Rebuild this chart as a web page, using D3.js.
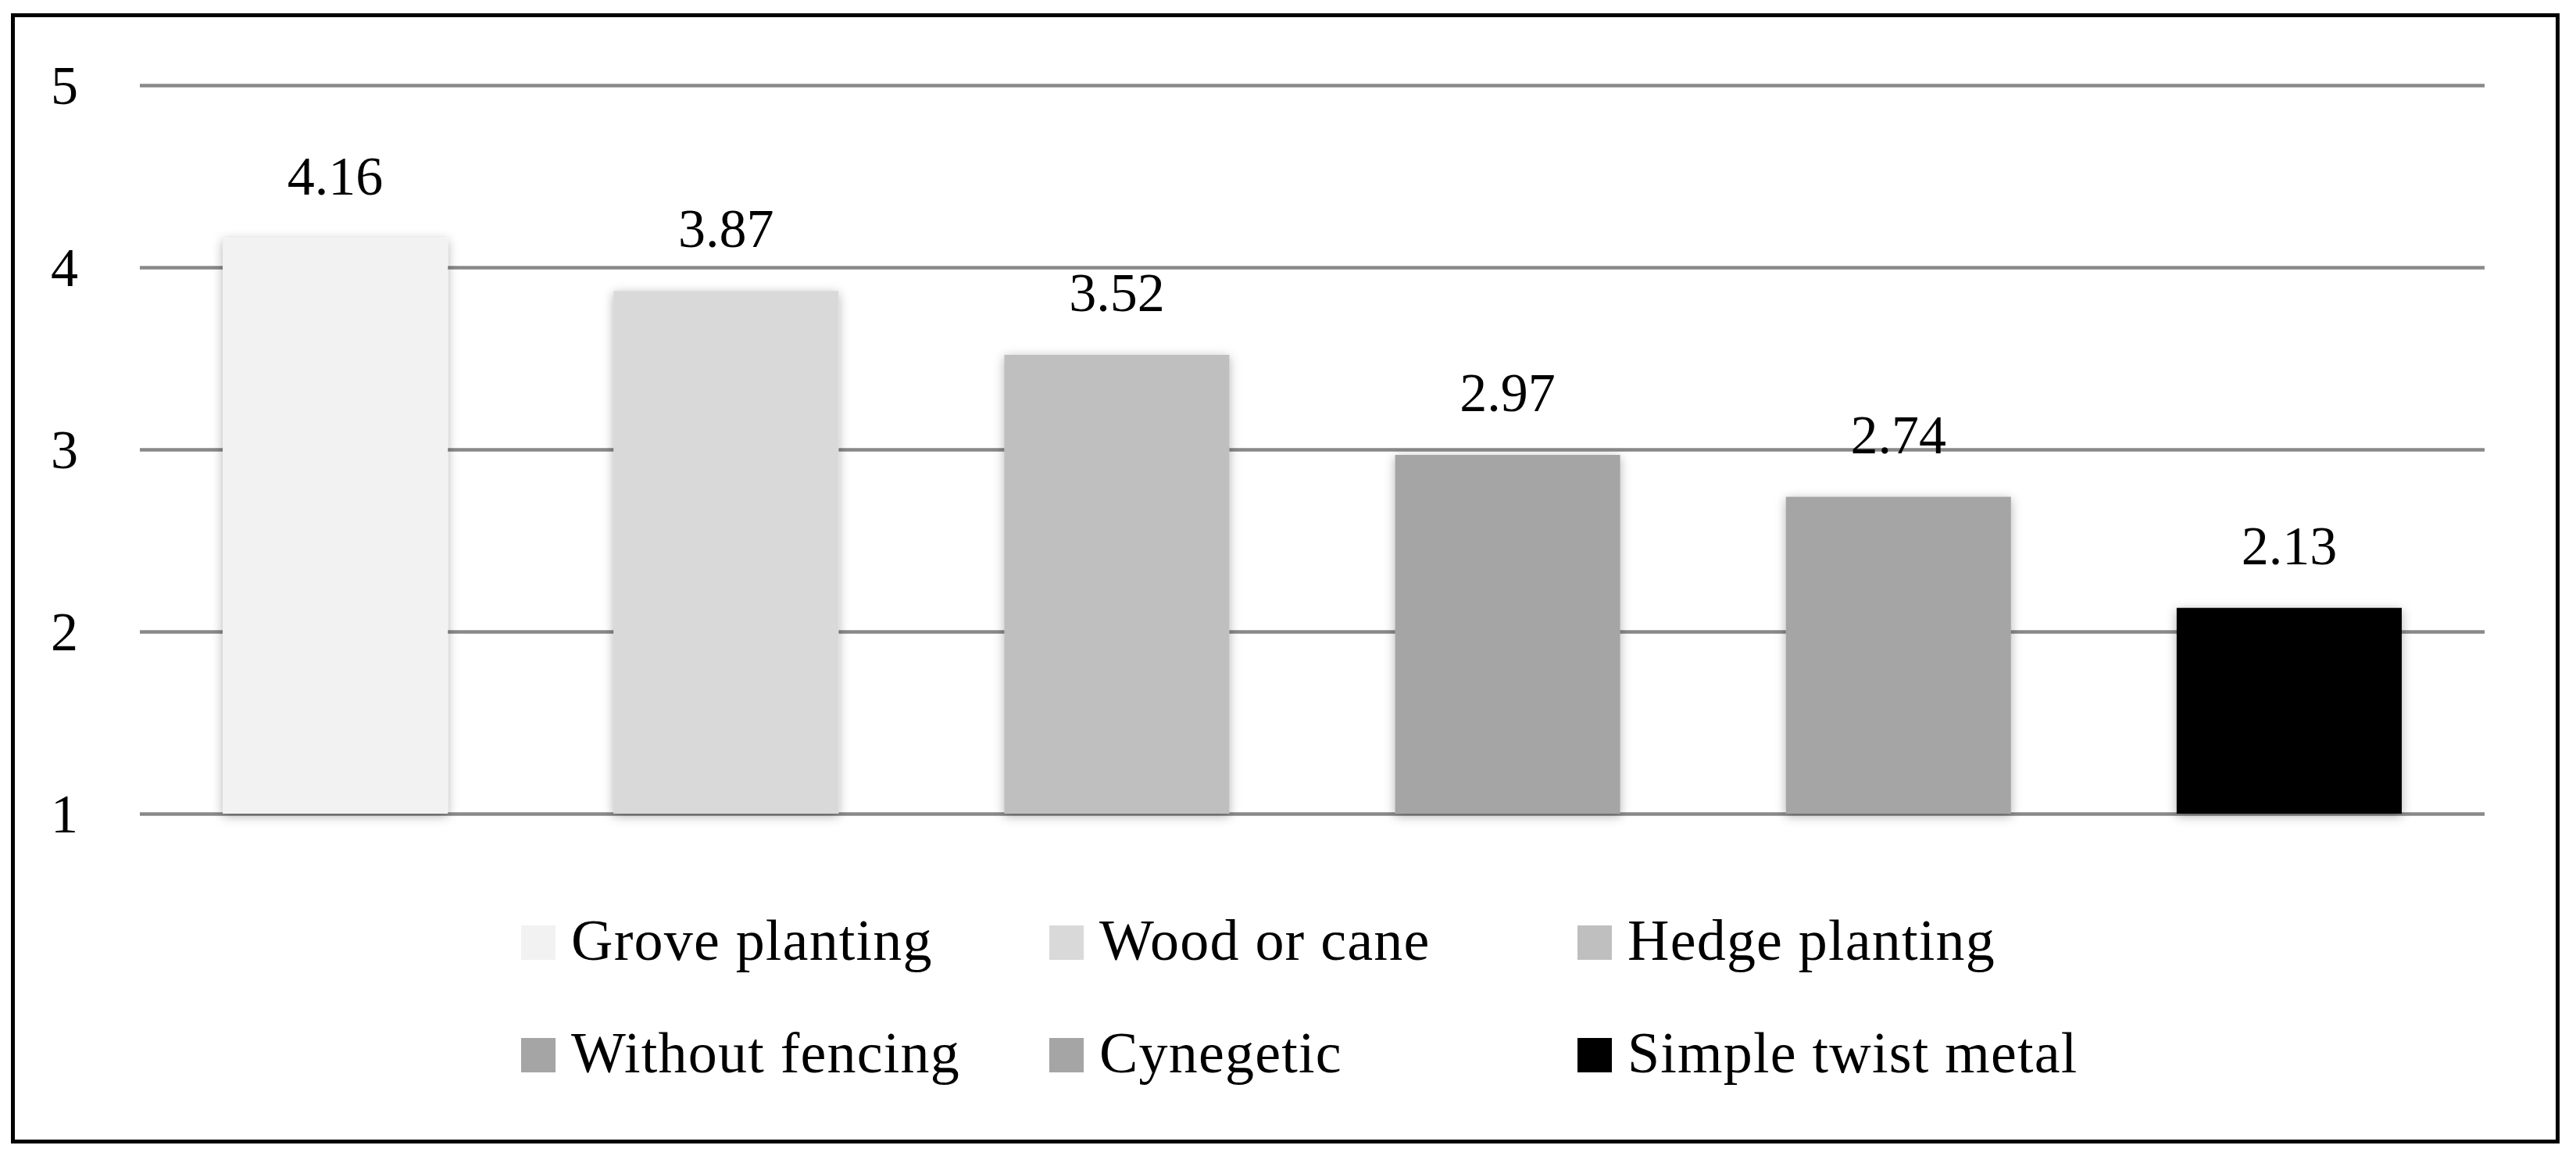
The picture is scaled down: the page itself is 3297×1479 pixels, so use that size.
<!DOCTYPE html>
<html>
<head>
<meta charset="utf-8">
<script src="https://cdn.jsdelivr.net/npm/d3@7"></script>
<style>
  html, body { margin: 0; padding: 0; background: #fff; }
  svg { display: block; }
  text { font-family: "Liberation Serif", "Times New Roman", serif; fill: #000; }
</style>
</head>
<body>
<svg id="chart" width="3297" height="1479"></svg>
<script>
const categories = ["Grove planting", "Wood or cane", "Hedge planting", "Without fencing", "Cynegetic", "Simple twist metal"];
const values = [4.16, 3.87, 3.52, 2.97, 2.74, 2.13];
const colors = ["#f2f2f2", "#d9d9d9", "#bfbfbf", "#a5a5a5", "#a5a5a5", "#000000"];
const yTicks = [1, 2, 3, 4, 5];

const svg = d3.select("#chart");
const W = 3297, H = 1479;

svg.append("rect").attr("width", W).attr("height", H).attr("fill", "#fff");

const defs = svg.append("defs");
const f = defs.append("filter").attr("id", "shadow")
  .attr("x", "-20%").attr("y", "-20%").attr("width", "140%").attr("height", "140%");
f.append("feDropShadow").attr("dx", 0).attr("dy", 3).attr("stdDeviation", 7)
  .attr("flood-color", "#000").attr("flood-opacity", 0.3);

// outer border
svg.append("rect")
  .attr("x", 16.5).attr("y", 19.5)
  .attr("width", 3273.5 - 16.5).attr("height", 1460.5 - 19.5)
  .attr("fill", "none").attr("stroke", "#000").attr("stroke-width", 5);

const plotLeft = 179, plotRight = 3180, plotTop = 109, plotBottom = 1041;

const x = d3.scaleBand().domain(categories).range([plotLeft, plotRight])
  .paddingInner(0.424).paddingOuter(0.212);
const y = d3.scaleLinear().domain([1, 5]).range([plotBottom, plotTop]);

// gridlines
const yAxis = d3.axisLeft(y).tickValues(yTicks).tickSize(-(plotRight - plotLeft)).tickPadding(0).tickFormat(d3.format("d"));
const gAxis = svg.append("g").attr("transform", `translate(${plotLeft},0)`).call(yAxis);
gAxis.select(".domain").remove();
gAxis.selectAll(".tick line").attr("stroke", "#898989").attr("stroke-width", 4.5);
gAxis.selectAll(".tick text")
  .attr("x", -79).attr("dy", "0.34em")
  .attr("text-anchor", "end")
  .style("font-family", '"Liberation Serif", serif')
  .style("font-size", "70px").attr("fill", "#000");

// bars
svg.append("g").selectAll("rect").data(categories).join("rect")
  .attr("x", d => x(d))
  .attr("y", (d, i) => y(values[i]))
  .attr("width", x.bandwidth())
  .attr("height", (d, i) => y(1) - y(values[i]))
  .attr("fill", (d, i) => colors[i])
  .attr("filter", "url(#shadow)");

// data labels
svg.append("g").selectAll("text").data(categories).join("text")
  .attr("x", d => x(d) + x.bandwidth() / 2)
  .attr("y", (d, i) => y(values[i]) - 56)
  .attr("text-anchor", "middle")
  .style("font-size", "70px")
  .text((d, i) => values[i].toFixed(2));

// legend
const legendCols = [667, 1343, 2019];
const legendRows = [1228, 1372];
const sq = 44;
const lg = svg.append("g").selectAll("g").data(categories).join("g")
  .attr("transform", (d, i) => `translate(${legendCols[i % 3]},${legendRows[Math.floor(i / 3)]})`);
lg.append("rect").attr("x", 0).attr("y", -sq).attr("width", sq).attr("height", sq)
  .attr("fill", (d, i) => colors[i]);
lg.append("text").attr("x", 64).attr("y", 0)
  .style("font-size", "74px").style("letter-spacing", "1.2px")
  .text(d => d);
</script>
</body>
</html>
